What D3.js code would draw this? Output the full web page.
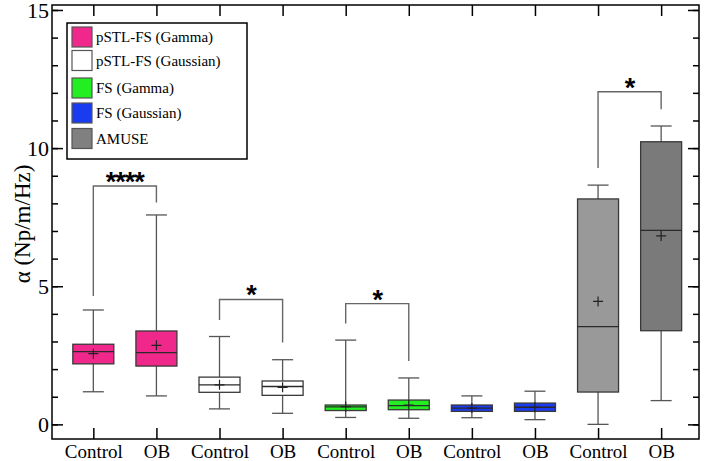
<!DOCTYPE html>
<html>
<head>
<meta charset="utf-8">
<script src="https://cdn.jsdelivr.net/npm/d3@7"></script>
<style>
  body { margin: 0; background: #fff; }
  svg { font-family: "Liberation Serif", "Times New Roman", serif; }
</style>
</head>
<body>
<div id="mainDiv"></div>
<script>
// data
var categories = ["Control", "OB", "Control", "OB", "Control", "OB", "Control", "OB", "Control", "OB"];
var methods = ["pSTL-FS (Gamma)", "pSTL-FS (Gaussian)", "FS (Gamma)", "FS (Gaussian)", "AMUSE"];
var methodColors = ["#f0288c", "#ffffff", "#22ee22", "#1a3cf0", "#808080"];
var boxColors = ["#f0288c", "#f0288c", "#ffffff", "#ffffff", "#22ee22", "#22ee22",
                 "#1a3cf0", "#1a3cf0", "#999999", "#7a7a7a"];

var whiskerLow  = [1.18, 1.03, 0.56, 0.40, 0.25, 0.22, 0.24, 0.17, 0.00, 0.86];
var q1          = [2.19, 2.11, 1.16, 1.05, 0.50, 0.53, 0.47, 0.47, 1.17, 3.39];
var median      = [2.63, 2.60, 1.43, 1.37, 0.63, 0.68, 0.59, 0.62, 3.54, 7.02];
var q3          = [2.90, 3.38, 1.71, 1.57, 0.70, 0.88, 0.70, 0.77, 8.16, 10.23];
var whiskerHigh = [4.14, 7.58, 3.18, 2.34, 3.05, 1.68, 1.03, 1.20, 8.66, 10.80];
var means       = [2.56, 2.86, 1.43, 1.34, 0.64, 0.70, 0.59, 0.62, 4.45, 6.82];

// significance brackets (category index pairs)
var bracketLeft  = [0, 2, 4, 8];
var bracketRight = [1, 3, 5, 9];
var bracketTop   = [8.63, 4.52, 4.37, 12.04];
var bracketLeftEnd  = [4.65, 3.78, 3.65, 9.28];
var bracketRightEnd = [8.03, 2.96, 2.29, 11.41];
var bracketLabel = ["****", "*", "*", "*"];

var majorTicks = [0, 5, 10, 15];
var minorTicks = d3.range(0, 16);

var width = 706, height = 461;
var plotL = 52, plotR = 699, plotT = 5, plotB = 439;

var svg = d3.select("#mainDiv").append("svg")
    .attr("width", width)
    .attr("height", height);

var x = d3.scaleLinear().domain([0.345, 10.6]).range([plotL, plotR]);
var y = d3.scaleLinear().domain([-0.53, 15.18]).range([plotB, plotT]);
var pos = function(i) { return x(i + 1); };

var boxW = 41, capW = 21;

// axes
svg.append("g").attr("transform", "translate(" + plotL + ",0)")
    .call(d3.axisLeft(y).tickValues(minorTicks).tickSizeInner(-6).tickSizeOuter(0).tickFormat(""));
var gLeft = svg.append("g").attr("transform", "translate(" + plotL + ",0)")
    .call(d3.axisLeft(y).tickValues(majorTicks).tickSizeInner(-11).tickSizeOuter(0).tickPadding(3));
gLeft.selectAll("text").attr("font-size", 22).attr("fill", "#000")
    .style("font-family", "Liberation Serif");

svg.append("g").attr("transform", "translate(" + plotR + ",0)")
    .call(d3.axisRight(y).tickValues(minorTicks).tickSizeInner(-6).tickSizeOuter(0).tickFormat(""));
svg.append("g").attr("transform", "translate(" + plotR + ",0)")
    .call(d3.axisRight(y).tickValues(majorTicks).tickSizeInner(-11).tickSizeOuter(0).tickFormat(""));

var catIdx = d3.range(1, categories.length + 1);
svg.append("g").attr("transform", "translate(0," + plotT + ")")
    .call(d3.axisTop(x).tickValues(catIdx).tickSizeInner(-11).tickSizeOuter(0).tickFormat(""));
var gBottom = svg.append("g").attr("transform", "translate(0," + plotB + ")")
    .call(d3.axisBottom(x).tickValues(catIdx).tickSizeInner(-11).tickSizeOuter(0).tickPadding(6)
          .tickFormat(function(d) { return categories[d - 1]; }));
gBottom.selectAll("text").attr("font-size", 19).attr("fill", "#000")
    .style("font-family", "Liberation Serif");

svg.selectAll(".domain").remove();
svg.selectAll(".tick line").attr("stroke", "#000").attr("stroke-width", 1.5);

svg.append("rect")
    .attr("x", plotL).attr("y", plotT)
    .attr("width", plotR - plotL).attr("height", plotB - plotT)
    .attr("fill", "none").attr("stroke", "#000").attr("stroke-width", 1.5);

// y label
svg.append("text")
    .attr("transform", "translate(30," + ((plotT + plotB) / 2 + 2) + ") rotate(-90)")
    .attr("text-anchor", "middle")
    .attr("font-size", 23)
    .text("α (Np/m/Hz)");

// boxes
var boxes = svg.append("g").selectAll("g")
    .data(categories)
    .enter().append("g");

boxes.append("line")
    .attr("x1", function(d, i) { return pos(i); })
    .attr("x2", function(d, i) { return pos(i); })
    .attr("y1", function(d, i) { return y(whiskerLow[i]); })
    .attr("y2", function(d, i) { return y(whiskerHigh[i]); })
    .attr("stroke", "#555").attr("stroke-width", 1.3);

boxes.append("line")
    .attr("x1", function(d, i) { return pos(i) - capW / 2; })
    .attr("x2", function(d, i) { return pos(i) + capW / 2; })
    .attr("y1", function(d, i) { return y(whiskerHigh[i]); })
    .attr("y2", function(d, i) { return y(whiskerHigh[i]); })
    .attr("stroke", "#555").attr("stroke-width", 1.3);

boxes.append("line")
    .attr("x1", function(d, i) { return pos(i) - capW / 2; })
    .attr("x2", function(d, i) { return pos(i) + capW / 2; })
    .attr("y1", function(d, i) { return y(whiskerLow[i]); })
    .attr("y2", function(d, i) { return y(whiskerLow[i]); })
    .attr("stroke", "#555").attr("stroke-width", 1.3);

boxes.append("rect")
    .attr("x", function(d, i) { return pos(i) - boxW / 2; })
    .attr("width", boxW)
    .attr("y", function(d, i) { return y(q3[i]); })
    .attr("height", function(d, i) { return y(q1[i]) - y(q3[i]); })
    .attr("fill", function(d, i) { return boxColors[i]; })
    .attr("stroke", "#3a3a3a").attr("stroke-width", 1.3);

boxes.append("line")
    .attr("x1", function(d, i) { return pos(i) - boxW / 2; })
    .attr("x2", function(d, i) { return pos(i) + boxW / 2; })
    .attr("y1", function(d, i) { return y(median[i]); })
    .attr("y2", function(d, i) { return y(median[i]); })
    .attr("stroke", "#2a2a2a").attr("stroke-width", 1.3);

// mean markers
boxes.append("path")
    .attr("d", function(d, i) {
        var cx = pos(i), cy = y(means[i]);
        return "M" + (cx - 5) + "," + cy + "H" + (cx + 5) + "M" + cx + "," + (cy - 5) + "V" + (cy + 5);
    })
    .attr("stroke", "#222").attr("stroke-width", 1.2);

// brackets
var brackets = svg.append("g").selectAll("g")
    .data(bracketLabel)
    .enter().append("g");

brackets.append("path")
    .attr("d", function(d, i) {
        var x1 = pos(bracketLeft[i]), x2 = pos(bracketRight[i]);
        return "M" + x1 + "," + y(bracketLeftEnd[i]) +
               "V" + y(bracketTop[i]) + "H" + x2 + "V" + y(bracketRightEnd[i]);
    })
    .attr("fill", "none").attr("stroke", "#666").attr("stroke-width", 1.4);

brackets.append("text")
    .attr("x", function(d, i) { return (pos(bracketLeft[i]) + pos(bracketRight[i])) / 2; })
    .attr("y", function(d, i) { return y(bracketTop[i]) + 5; })
    .attr("text-anchor", "middle")
    .attr("font-size", 27)
    .attr("font-weight", "bold")
    .attr("letter-spacing", -1)
    .style("font-family", "Liberation Sans")
    .text(function(d) { return d; });

// legend
var legend = svg.append("g");
legend.append("rect")
    .attr("x", 67).attr("y", 23).attr("width", 180).attr("height", 136)
    .attr("fill", "#fff").attr("stroke", "#000").attr("stroke-width", 1.5);

var rowY = [37, 60.5, 88, 113, 138.5];
var items = legend.selectAll("g.item")
    .data(methods)
    .enter().append("g").attr("class", "item");

items.append("rect")
    .attr("x", 72).attr("width", 20).attr("height", 20)
    .attr("y", function(d, i) { return rowY[i] - 10; })
    .attr("fill", function(d, i) { return methodColors[i]; })
    .attr("stroke", "#555").attr("stroke-width", 1.2);

items.append("text")
    .attr("x", 96)
    .attr("y", function(d, i) { return rowY[i] + 5; })
    .attr("font-size", 15)
    .text(function(d) { return d; });
</script>
</body>
</html>
